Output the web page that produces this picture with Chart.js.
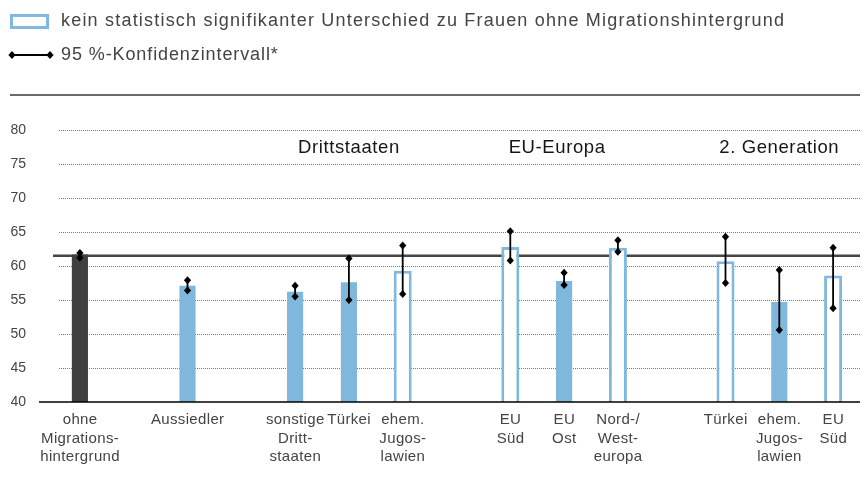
<!DOCTYPE html>
<html>
<head>
<meta charset="utf-8">
<script src="https://cdn.jsdelivr.net/npm/chart.js@4/dist/chart.umd.min.js"></script>
<style>
  html, body { margin: 0; padding: 0; background: #fff; }
  #wrap { width: 863px; height: 497px; position: relative; }
</style>
</head>
<body>
<div id="wrap"><canvas id="chart"></canvas></div>
<script>
// slots: empty strings are the gaps between the groups
const categories = [
  ['ohne', 'Migrations-', 'hintergrund'], '', 'Aussiedler', '',
  ['sonstige', 'Dritt-', 'staaten'], 'Türkei', ['ehem.', 'Jugos-', 'lawien'], '',
  ['EU', 'Süd'], ['EU', 'Ost'], ['Nord-/', 'West-', 'europa'], '',
  'Türkei', ['ehem.', 'Jugos-', 'lawien'], ['EU', 'Süd'],
];
const values = [61.7, null, 57.1, null, 56.2, 57.6, 59.3, null, 62.8, 57.8, 62.7, null, 60.7, 54.7, 58.6];
const ciLow = [61.2, null, 56.4, null, 55.5, 55.0, 55.9, null, 60.8, 57.2, 62.1, null, 57.5, 50.6, 53.8];
const ciHigh = [61.9, null, 57.9, null, 57.1, 61.1, 63.0, null, 65.1, 59.0, 63.8, null, 64.3, 59.4, 62.7];
// ref = Frauen ohne Migrationshintergrund, sig = signifikant, ns = nicht signifikant
const kinds = ['ref', null, 'sig', null, 'sig', 'sig', 'ns', null, 'ns', 'sig', 'ns', null, 'ns', 'sig', 'ns'];
const referenceValue = 61.5;
const groupLabels = ['Drittstaaten', 'EU-Europa', '2. Generation'];
const groupSlots = [5, 8.87, 13];
const yTicks = [40, 45, 50, 55, 60, 65, 70, 75, 80];

const COLORS = {
  ref: '#404040',
  sig: '#80b7dd',
  nsBorder: '#80b8e0',
  text: '#444444',
  title: '#161616',
};
const FONT = "'Liberation Sans', Arial, sans-serif";

const pick = (kind) => values.map((v, i) => (kinds[i] === kind ? v : null));

function diamond(ctx, x, y, r) {
  ctx.beginPath();
  ctx.moveTo(x, y - r);
  ctx.lineTo(x + r * 0.9, y);
  ctx.lineTo(x, y + r);
  ctx.lineTo(x - r * 0.9, y);
  ctx.closePath();
  ctx.fill();
}

const decorPlugin = {
  id: 'decor',
  beforeDraw(chart) {
    const { ctx } = chart;
    ctx.save();
    // legend: outlined box
    ctx.strokeStyle = COLORS.nsBorder;
    ctx.lineWidth = 3;
    ctx.strokeRect(11.5, 15.5, 36, 12);
    ctx.fillStyle = COLORS.text;
    ctx.font = `18px ${FONT}`;
    ctx.letterSpacing = '1.2px';
    ctx.textBaseline = 'middle';
    ctx.fillText('kein statistisch signifikanter Unterschied zu Frauen ohne Migrationshintergrund', 61, 21);
    // legend: confidence interval
    ctx.strokeStyle = '#000';
    ctx.lineWidth = 1.8;
    ctx.beginPath();
    ctx.moveTo(12, 55);
    ctx.lineTo(50, 55);
    ctx.stroke();
    ctx.fillStyle = '#000';
    diamond(ctx, 12, 55, 4);
    diamond(ctx, 50, 55, 4);
    ctx.fillStyle = COLORS.text;
    ctx.letterSpacing = '0.9px';
    ctx.fillText('95 %-Konfidenzintervall*', 61, 55);
    // rule
    ctx.strokeStyle = '#6a6a6a';
    ctx.lineWidth = 2;
    ctx.beginPath();
    ctx.moveTo(10, 95);
    ctx.lineTo(860, 95);
    ctx.stroke();
    ctx.restore();
  },
  beforeDatasetsDraw(chart) {
    const { ctx, chartArea } = chart;
    const y = chart.scales.y;
    ctx.save();
    // dotted grid
    ctx.strokeStyle = '#7a7a7a';
    ctx.lineWidth = 1;
    ctx.setLineDash([1, 1]);
    yTicks.slice(1).forEach((t) => {
      const py = Math.round(y.getPixelForValue(t)) + 0.5;
      ctx.beginPath();
      ctx.moveTo(59, py);
      ctx.lineTo(chartArea.right, py);
      ctx.stroke();
    });
    ctx.setLineDash([]);
    // reference line
    const ry = y.getPixelForValue(referenceValue);
    ctx.strokeStyle = '#454545';
    ctx.lineWidth = 2.5;
    ctx.beginPath();
    ctx.moveTo(chartArea.left, ry);
    ctx.lineTo(chartArea.right, ry);
    ctx.stroke();
    ctx.restore();
  },
  afterDatasetsDraw(chart) {
    const { ctx, chartArea } = chart;
    const x = chart.scales.x;
    const y = chart.scales.y;
    ctx.save();
    // baseline
    const by = y.getPixelForValue(40);
    ctx.strokeStyle = '#000';
    ctx.lineWidth = 1.5;
    ctx.beginPath();
    ctx.moveTo(39, by);
    ctx.lineTo(chartArea.right, by);
    ctx.stroke();
    // confidence intervals
    ctx.lineWidth = 1.8;
    ctx.fillStyle = '#000';
    values.forEach((v, i) => {
      if (v === null) return;
      const px = x.getPixelForValue(i);
      const lo = y.getPixelForValue(ciLow[i]);
      const hi = y.getPixelForValue(ciHigh[i]);
      ctx.beginPath();
      ctx.moveTo(px, lo);
      ctx.lineTo(px, hi);
      ctx.stroke();
      diamond(ctx, px, lo, 4);
      diamond(ctx, px, hi, 4);
    });
    // group titles
    ctx.fillStyle = COLORS.title;
    ctx.font = `18.5px ${FONT}`;
    ctx.letterSpacing = '0.6px';
    ctx.textAlign = 'center';
    ctx.textBaseline = 'middle';
    groupLabels.forEach((label, i) => {
      ctx.fillText(label, x.getPixelForValue(groupSlots[i]), y.getPixelForValue(77.4));
    });
    // category labels (drawn here for the wider letter spacing)
    ctx.fillStyle = COLORS.text;
    ctx.font = `15px ${FONT}`;
    ctx.letterSpacing = '0.35px';
    categories.forEach((label, i) => {
      const lines = Array.isArray(label) ? label : [label];
      const px = x.getPixelForValue(i) + 0.2;
      lines.forEach((line, j) => {
        ctx.fillText(line, px, 420 + j * 18.5);
      });
    });
    ctx.restore();
  },
};

const barBase = { grouped: false, categoryPercentage: 1, borderSkipped: false };

new Chart(document.getElementById('chart'), {
  type: 'bar',
  data: {
    labels: categories,
    datasets: [
      { ...barBase, label: 'ohne', data: pick('ref'), backgroundColor: COLORS.ref, barPercentage: 0.3, borderWidth: 0 },
      { ...barBase, label: 'sig', data: pick('sig'), backgroundColor: COLORS.sig, barPercentage: 0.3, borderWidth: 0 },
      {
        ...barBase, label: 'ns', data: pick('ns'), backgroundColor: '#ffffff',
        borderColor: COLORS.nsBorder, borderWidth: 3, barPercentage: 0.335,
      },
    ],
  },
  plugins: [decorPlugin],
  options: {
    responsive: true,
    maintainAspectRatio: false,
    animation: false,
    layout: { padding: { top: 130, right: 3, left: 11, bottom: 0 } },
    plugins: { legend: { display: false }, tooltip: { enabled: false } },
    scales: {
      x: {
        grid: { display: false, drawTicks: false },
        border: { display: false },
        afterFit: (s) => { s.height = 95; },
        ticks: { display: false, autoSkip: false },
      },
      y: {
        min: 40,
        max: 80,
        grid: { display: false, drawTicks: false },
        border: { display: false },
        afterFit: (s) => { s.width = 42; },
        afterBuildTicks: (s) => { s.ticks = yTicks.map((v) => ({ value: v })); },
        ticks: {
          padding: 27,
          color: COLORS.text,
          font: { family: FONT, size: 14 },
        },
      },
    },
  },
});
</script>
</body>
</html>
